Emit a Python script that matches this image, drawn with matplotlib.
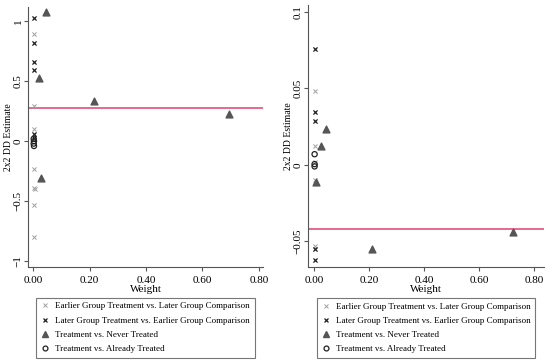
import matplotlib
matplotlib.use("Agg")
import matplotlib.pyplot as plt
from matplotlib.lines import Line2D

plt.rcParams['font.family'] = ['Liberation Serif', 'DejaVu Serif']

# left panel
l_early_w = [0.002, 0.002, 0.002, 0.002, 0.002, 0.006, 0.002, 0.002]
l_early_y = [0.89, 0.29, 0.10, -0.23, -0.39, -0.40, -0.53, -0.80]
l_late_w = [0.002, 0.002, 0.002, 0.002, 0.002, 0.002]
l_late_y = [1.03, 0.82, 0.66, 0.59, 0.06, 0.03]
l_never_w = [0.045, 0.022, 0.215, 0.694, 0.028]
l_never_y = [1.08, 0.53, 0.335, 0.23, -0.31]
l_already_w = [0.002, 0.003, 0.002, 0.003]
l_already_y = [0.02, 0.0, -0.02, -0.04]
l_mean = 0.276

# right panel
r_early_w = [0.002, 0.002, 0.002, 0.004, 0.002]
r_early_y = [0.0486, 0.0125, 0.002, -0.010, -0.053]
r_late_w = [0.002, 0.002, 0.002, 0.002, 0.002]
r_late_y = [0.0758, 0.0344, 0.029, -0.055, -0.0625]
r_never_w = [0.044, 0.027, 0.008, 0.211, 0.722]
r_never_y = [0.0235, 0.0126, -0.0115, -0.0549, -0.0442]
r_already_w = [0.002, 0.002, 0.002]
r_already_y = [0.007, 0.0005, -0.001]
r_mean = -0.0418

labels = ['Earlier Group Treatment vs. Later Group Comparison',
          'Later Group Treatment vs. Earlier Group Comparison',
          'Treatment vs. Never Treated',
          'Treatment vs. Already Treated']

fig = plt.figure(figsize=(5.5, 3.6), dpi=100)
ax1 = fig.add_axes([0.051, 0.258, 0.427, 0.723])
ax2 = fig.add_axes([0.56, 0.258, 0.429, 0.728])

red = '#e0406e'


def draw(ax, ew, ey, lw, ly, nw, ny, aw, ay, mean):
    ax.scatter(ew, ey, marker='x', s=9, c='#a0a0a0', linewidths=0.7, zorder=3)
    ax.scatter(lw, ly, marker='x', s=9, c='#202020', linewidths=0.9, zorder=3)
    ax.scatter(nw, ny, marker='^', s=24, c='#555555', zorder=3)
    ax.scatter(aw, ay, marker='o', s=14, facecolors='none', edgecolors='#202020',
               linewidths=0.9, zorder=3)
    ax.axhline(mean, color=red, lw=1.1, zorder=2)
    for s in ['top', 'right']:
        ax.spines[s].set_visible(False)
    for s in ['left', 'bottom']:
        ax.spines[s].set_color('#555555')
        ax.spines[s].set_linewidth(0.8)
    ax.tick_params(colors='#555555', labelcolor='black', labelsize=8, length=3, width=0.8)
    ax.tick_params(axis='y', pad=1)
    ax.set_xticks([0, 0.2, 0.4, 0.6, 0.8])
    ax.set_xticklabels(['0.00', '0.20', '0.40', '0.60', '0.80'])
    ax.set_xlabel('Weight', fontsize=8, labelpad=0)
    ax.set_ylabel('2x2 DD Estimate', fontsize=7)
    ax.yaxis.set_label_coords(-0.064, 0.5)
    handles = [
        Line2D([], [], ls='', marker='x', ms=3, mec='#a0a0a0', mew=0.7),
        Line2D([], [], ls='', marker='x', ms=3, mec='#202020', mew=0.9),
        Line2D([], [], ls='', marker='^', ms=4.5, mfc='#555555', mec='#555555'),
        Line2D([], [], ls='', marker='o', ms=3.5, mfc='none', mec='#202020', mew=0.9),
    ]
    leg = ax.legend(handles, labels, loc='upper center', bbox_to_anchor=(0.5, -0.1),
                    frameon=True, fancybox=False, fontsize=6.5, handlelength=1,
                    handletextpad=0.6, borderpad=0.5, labelspacing=0.65,
                    edgecolor='#555555')
    leg.get_frame().set_linewidth(0.8)


draw(ax1, l_early_w, l_early_y, l_late_w, l_late_y, l_never_w, l_never_y,
     l_already_w, l_already_y, l_mean)
ax1.set_xlim(-0.018, 0.814)
ax1.set_ylim(-1.05, 1.12)
ax1.set_yticks([-1, -0.5, 0, 0.5, 1])
ax1.set_yticklabels(['\u22121', '\u22120.5', '0', '0.5', '1'], rotation=90, va='center')

draw(ax2, r_early_w, r_early_y, r_late_w, r_late_y, r_never_w, r_never_y,
     r_already_w, r_already_y, r_mean)
ax2.set_xlim(-0.022, 0.836)
ax2.set_ylim(-0.0669, 0.1046)
ax2.set_yticks([-0.05, 0, 0.05, 0.1])
ax2.set_yticklabels(['\u22120.05', '0', '0.05', '0.1'], rotation=90, va='center')

fig.savefig('out.png', dpi=100)
